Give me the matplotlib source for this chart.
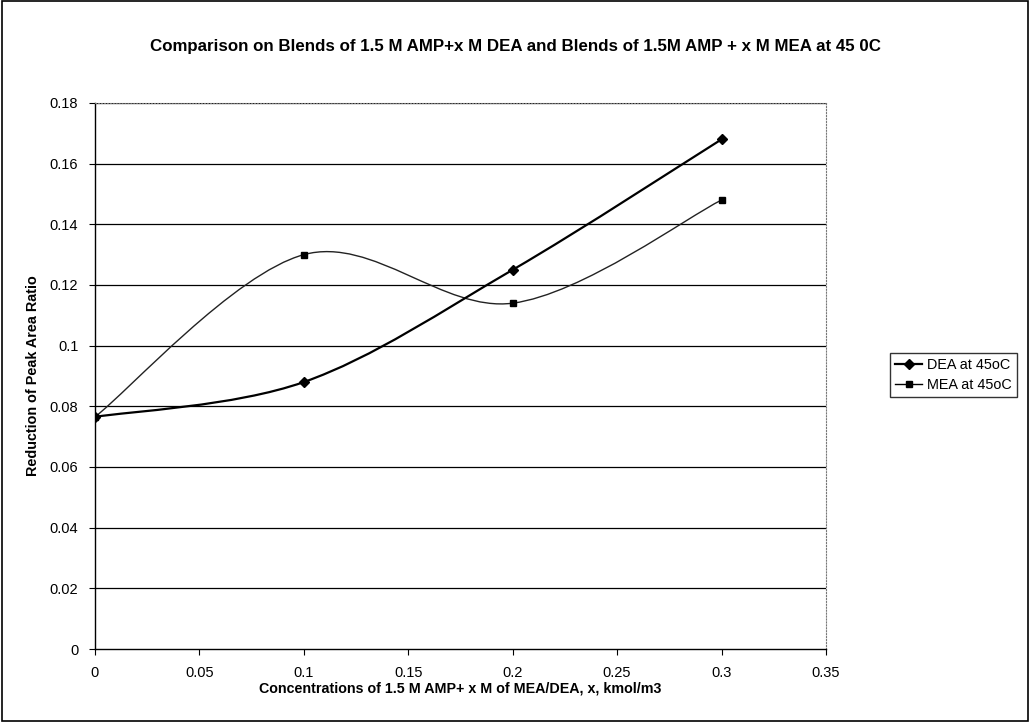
import matplotlib
matplotlib.use("Agg")
import matplotlib.pyplot as plt
import numpy as np
from matplotlib.path import Path
from matplotlib.patches import PathPatch, Rectangle
from matplotlib.lines import Line2D

plt.rcParams["font.family"] = ["Liberation Sans", "DejaVu Sans"]

# Data
conc = [0.0, 0.1, 0.2, 0.3]
dea = [0.0765, 0.088, 0.125, 0.168]
mea = [0.0765, 0.130, 0.114, 0.148]
yticks = [0, 0.02, 0.04, 0.06, 0.08, 0.1, 0.12, 0.14, 0.16, 0.18]
xticks = [0, 0.05, 0.1, 0.15, 0.2, 0.25, 0.3, 0.35]


def smooth_path(xs, ys):
    # Excel-like smoothed line: cubic Bezier through points
    pts = np.column_stack([xs, ys])
    n = len(pts)
    verts = [pts[0]]
    codes = [Path.MOVETO]
    for i in range(n - 1):
        p0 = pts[i - 1] if i > 0 else pts[i]
        p1 = pts[i]
        p2 = pts[i + 1]
        p3 = pts[i + 2] if i + 2 < n else pts[i + 1]
        c1 = p1 + (p2 - p0) / 6.0
        c2 = p2 - (p3 - p1) / 6.0
        verts += [c1, c2, p2]
        codes += [Path.CURVE4] * 3
    return Path(verts, codes)


fig = plt.figure(figsize=(10.3, 7.22), dpi=100)
ax = fig.add_axes([0.0922, 0.1011, 0.7097, 0.7563])

for yv in yticks[1:]:
    ax.axhline(yv, color="black", linewidth=0.9, zorder=1)

ax.add_patch(PathPatch(smooth_path(conc, mea), facecolor="none",
                       edgecolor="#222222", linewidth=1.0, zorder=3))
ax.add_patch(PathPatch(smooth_path(conc, dea), facecolor="none",
                       edgecolor="black", linewidth=1.6, zorder=4))
ax.plot(conc, dea, linestyle="none", marker="D", markersize=5,
        color="black", zorder=5)
ax.plot(conc, mea, linestyle="none", marker="s", markersize=5,
        color="black", zorder=5)

ax.set_xlim(0, 0.35)
ax.set_ylim(0, 0.18)
ax.set_xticks(xticks)
ax.set_xticklabels(["0", "0.05", "0.1", "0.15", "0.2", "0.25", "0.3", "0.35"], fontsize=10.5)
ax.set_yticks(yticks)
ax.set_yticklabels(["0", "0.02", "0.04", "0.06", "0.08", "0.1", "0.12", "0.14", "0.16", "0.18"], fontsize=10.5)
ax.tick_params(direction="out", length=4, width=0.8, pad=8)
for s in ["top", "right"]:
    ax.spines[s].set_color("#777777")
    ax.spines[s].set_linestyle(":")
for s in ["left", "bottom"]:
    ax.spines[s].set_color("black")
    ax.spines[s].set_linewidth(1.0)

ax.set_xlabel("Concentrations of 1.5 M AMP+ x M of MEA/DEA, x, kmol/m3",
              fontsize=10.3, fontweight="bold")
ax.xaxis.set_label_coords(0.5, -0.073)
ax.xaxis.label.set_va("center")
ax.set_ylabel("Reduction of Peak Area Ratio", fontsize=10.4, fontweight="bold")
ax.yaxis.set_label_coords(-0.085, 0.5)
ax.yaxis.label.set_va("center")
fig.text(0.5, 0.936, "Comparison on Blends of 1.5 M AMP+x M DEA and Blends of 1.5M AMP + x M MEA at 45 0C",
         ha="center", va="center", fontsize=12.2, fontweight="bold")

handles = [
    Line2D([0], [0], color="black", linewidth=1.6, marker="D", markersize=5),
    Line2D([0], [0], color="black", linewidth=1.0, marker="s", markersize=5),
]
fig.legend(handles, ["DEA at 45oC", "MEA at 45oC"], loc="center left",
           bbox_to_anchor=(0.864, 0.481), fontsize=10.4, frameon=True,
           fancybox=False, edgecolor="black", handlelength=1.9,
           borderpad=0.35, labelspacing=0.4, handletextpad=0.3,
           borderaxespad=0)

fig.patches.append(Rectangle((0.002, 0.002), 0.996, 0.996, transform=fig.transFigure,
                             fill=False, edgecolor="black", linewidth=1.2))

fig.savefig("out.png", dpi=100, facecolor="white")
